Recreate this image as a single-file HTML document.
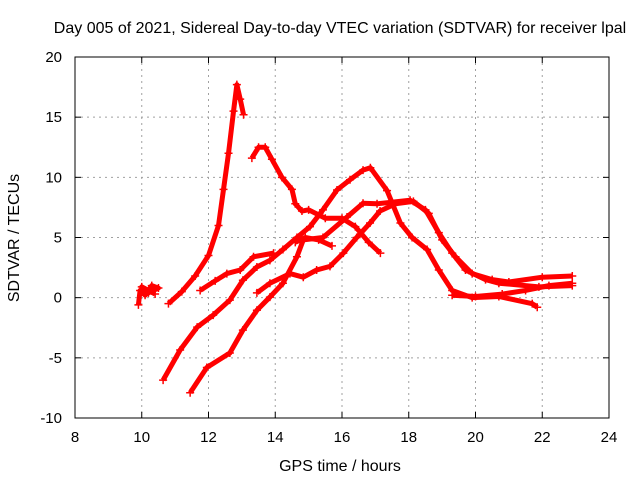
<!DOCTYPE html>
<html><head><meta charset="utf-8"><style>
body{margin:0;background:#fff}
svg{display:block;font-family:"Liberation Sans",sans-serif}
</style></head><body>
<svg id="c" width="640" height="480">
<text x="340" y="33" font-size="16" text-anchor="middle">Day 005 of 2021, Sidereal Day-to-day VTEC variation (SDTVAR) for receiver lpal</text>
<text x="340" y="471" font-size="16" text-anchor="middle">GPS time / hours</text>
<text transform="translate(19,238) rotate(-90)" font-size="16" text-anchor="middle">SDTVAR / TECUs</text>
<g id="grid"></g><g id="series"></g>
<rect x="75" y="57" width="534" height="361" fill="none" stroke="#000"/>
</svg>
<script>
const xTicks=[8,10,12,14,16,18,20,22,24];
const yTicks=[-10,-5,0,5,10,15,20];
const sBlob=[[9.9,-0.6],[9.95,0.6],[10.1,0.2],[10.3,1.0],[10.5,0.8],[10.2,0.4],[10.0,0.9],[10.4,0.3]];
const sA=[[10.8,-0.5],[11.2,0.5],[11.6,1.8],[12.0,3.5],[12.3,6],[12.45,9],[12.6,12],[12.75,15.5],[12.85,17.7],[12.95,16.5],[13.05,15.2]];
const sB=[[13.3,11.6],[13.5,12.5],[13.7,12.5],[13.9,11.5],[14.2,10],[14.5,9],[14.6,7.8],[14.8,7.2],[15,7.3],[15.5,6.6],[16,6.6],[16.4,5.9],[16.8,4.6],[17.15,3.7]];
const sC=[[10.64,-6.85],[11.15,-4.35],[11.66,-2.45],[12.14,-1.45],[12.64,-0.2],[13.03,1.45],[13.45,2.55],[13.84,3.1],[14.23,4.0],[14.65,5.0],[15.04,5.9],[15.43,7.3],[15.85,8.95],[16.24,9.8],[16.63,10.6],[16.85,10.8],[17.35,8.9],[17.75,6.2],[18.1,5.0],[18.55,4.0],[18.9,2.3],[19.3,0.6],[19.9,0],[20.7,0.1],[21.7,-0.5],[21.85,-0.8]];
const sD=[[11.45,-7.9],[11.95,-5.8],[12.64,-4.6],[13.03,-2.7],[13.45,-1.05],[13.84,0.05],[14.23,1.2],[14.65,3.4],[14.84,4.8],[15.43,5.0],[16.15,6.7],[16.63,7.85],[17.05,7.8],[18.04,8.1],[18.5,7.3],[18.9,5.4],[19.3,3.7],[19.7,2.3],[20.3,1.5],[20.7,1.2],[21.9,0.9],[22.9,1.0]];
const sE=[[11.75,0.6],[12.2,1.4],[12.55,2.0],[12.95,2.3],[13.35,3.4],[13.95,3.7]];
const sF=[[13.45,0.4],[13.84,1.2],[14.44,2.0],[14.84,1.7],[15.24,2.3],[15.64,2.6],[16.04,3.7],[16.44,5.0],[16.84,6.2],[17.14,7.2],[17.6,7.8],[18.14,8.0],[18.6,7.0],[19.0,4.8],[19.4,3.4],[19.9,2.0],[20.5,1.5],[21.0,1.3],[22.0,1.7],[22.9,1.8]];
const sG=[[14.6,4.6],[14.9,5.0],[15.3,4.8],[15.7,4.3]];
const sH=[[19.3,0.2],[20.0,0.1],[20.8,0.3],[21.5,0.6],[22.2,1.0],[22.9,1.2]];
const allSeries=[sBlob,sA,sB,sC,sD,sE,sF,sG,sH];
const X=h=>75+(h-8)*534/16, Y=v=>57+(20-v)*361/30;
const NS="http://www.w3.org/2000/svg";
const g=document.getElementById('grid'), S=document.getElementById('series');
function mk(t,a,p){const e=document.createElementNS(NS,t);for(const k in a)e.setAttribute(k,a[k]);p.appendChild(e);return e;}
xTicks.forEach(t=>{const x=X(t);
 if(t>8&&t<24){const l=mk('line',{x1:x,x2:x,y1:57,y2:418,stroke:'#a0a0a0','stroke-dasharray':'2,4'},g);
 
 }
 mk('line',{x1:x,x2:x,y1:418,y2:412,stroke:'#000'},g);mk('line',{x1:x,x2:x,y1:57,y2:63,stroke:'#000'},g);
 const tx=mk('text',{x:x,y:442,'font-size':15,'text-anchor':'middle'},g);tx.textContent=t;
 
 });
yTicks.forEach(t=>{const y=Y(t);
 if(t>-10&&t<20){const l=mk('line',{x1:75,x2:609,y1:y,y2:y,stroke:'#a0a0a0','stroke-dasharray':'2,4'},g);
 
 }
 mk('line',{x1:75,x2:81,y1:y,y2:y,stroke:'#000'},g);mk('line',{x1:609,x2:603,y1:y,y2:y,stroke:'#000'},g);
 const tx=mk('text',{x:62,y:y+5,'font-size':15,'text-anchor':'end'},g);tx.textContent=t;
 
 });
allSeries.forEach((s,i)=>{
 const p=mk('polyline',{points:s.map(d=>X(d[0])+','+Y(d[1])).join(' '),fill:'none',stroke:'#f00','stroke-width':5,'stroke-linejoin':'round'},S);
 
 
 s.forEach(d=>{const m=mk('path',{d:`M${X(d[0])-4},${Y(d[1])}h8M${X(d[0])},${Y(d[1])-4}v8`,stroke:'#f00','stroke-width':1.5},S);
  
  });
});
</script>
</body></html>
